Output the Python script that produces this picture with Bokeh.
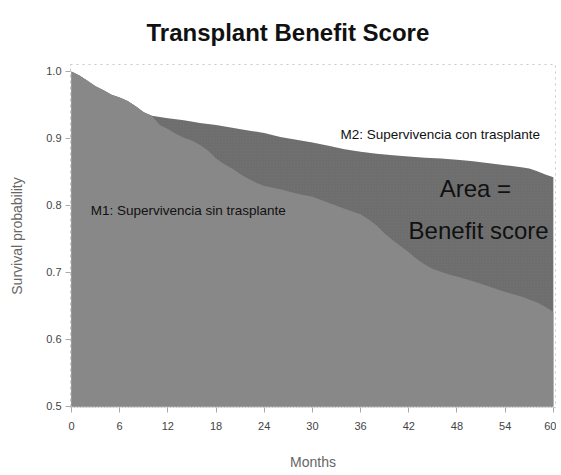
from bokeh.plotting import figure
from bokeh.models import Label, Range1d, FixedTicker, CustomJSTickFormatter
from bokeh.embed import file_html
from bokeh.resources import INLINE

# --- data ---
m1_months = [0, 1, 2, 3, 4, 5, 6, 7, 8, 9, 10, 11, 12, 13, 14, 15, 16, 17, 18, 19, 20,
             21, 22, 23, 24, 26, 28, 30, 32, 34, 36, 37, 38, 39, 40, 41, 42, 43, 44, 45,
             46, 47, 48, 50, 52, 54, 56, 58, 59, 60]
m1_surv = [1.0, 0.994, 0.986, 0.978, 0.972, 0.965, 0.961, 0.956, 0.948, 0.939, 0.934,
           0.92, 0.914, 0.907, 0.901, 0.897, 0.89, 0.882, 0.87, 0.862, 0.855,
           0.847, 0.84, 0.834, 0.829, 0.824, 0.818, 0.813, 0.804, 0.795, 0.787,
           0.779, 0.77, 0.758, 0.748, 0.739, 0.73, 0.72, 0.712, 0.705,
           0.701, 0.697, 0.694, 0.687, 0.679, 0.671, 0.664, 0.655, 0.649, 0.641]

m2_months = [0, 1, 2, 3, 4, 5, 6, 7, 8, 9, 10, 11, 12, 14, 16, 18, 20, 22, 24, 26, 28,
             30, 32, 34, 36, 38, 40, 42, 44, 46, 48, 50, 52, 54, 56, 57, 58, 59, 60]
m2_surv = [1.0, 0.994, 0.986, 0.978, 0.972, 0.965, 0.961, 0.956, 0.948, 0.939, 0.934,
           0.932, 0.93, 0.927, 0.923, 0.92, 0.916, 0.912, 0.908, 0.902, 0.898,
           0.894, 0.889, 0.884, 0.88, 0.877, 0.875, 0.873, 0.871, 0.87, 0.868,
           0.866, 0.863, 0.86, 0.857, 0.855, 0.851, 0.846, 0.842]

x_ticks = [0, 6, 12, 18, 24, 30, 36, 42, 48, 54, 60]
y_ticks = [0.5, 0.6, 0.7, 0.8, 0.9, 1.0]

title_text = "Transplant Benefit Score"
label_m1 = "M1: Supervivencia sin trasplante"
label_m2 = "M2: Supervivencia con trasplante"
label_area1 = "Area ="
label_area2 = "Benefit score"

FONT = "Liberation Sans"

p = figure(width=556, height=472, output_backend="svg", toolbar_location=None,
           x_range=Range1d(-0.12, 60.27), y_range=Range1d(0.4985, 1.0103),
           min_border_left=70, min_border_right=1, min_border_top=64, min_border_bottom=60,
           title=title_text)

p.title.text_font = FONT
p.title.text_font_style = "bold"
p.title.text_font_size = "24px"
p.title.align = "left"
p.title.offset = 76
p.title.vertical_align = "top"
p.title.standoff = 34
p.title.text_color = "#111111"

p.grid.visible = False
p.outline_line_color = "#c8c8c8"
p.outline_line_dash = "dotted"
p.outline_line_width = 1

# M2 area (darker, stippled)
p.varea(x=m2_months, y1=0.5, y2=m2_surv, fill_color="#707070",
        hatch_pattern="dot", hatch_color="#555555", hatch_scale=3, hatch_alpha=0.3)
# M1 area (lighter)
p.varea(x=m1_months, y1=0.5, y2=m1_surv, fill_color="#888888")

# axes
for ax in (p.xaxis[0], p.yaxis[0]):
    ax.axis_line_color = "#c8c8c8"
    ax.axis_line_dash = "dotted"
    ax.major_tick_line_color = "#aaaaaa"
    ax.major_tick_in = 0
    ax.major_tick_out = 5
    ax.minor_tick_line_color = None
    ax.major_label_text_font = FONT
    ax.major_label_text_font_size = "11px"
    ax.major_label_text_color = "#444444"
    ax.axis_label_text_font = FONT
    ax.axis_label_text_font_style = "normal"
    ax.axis_label_text_color = "#666666"
    ax.axis_label_text_font_size = "14px"

p.xaxis.ticker = FixedTicker(ticks=x_ticks)
p.yaxis.ticker = FixedTicker(ticks=y_ticks)
p.yaxis.formatter = CustomJSTickFormatter(code="return tick.toFixed(1);")
p.xaxis.axis_label = "Months"
p.yaxis.axis_label = "Survival probability"
p.xaxis.major_label_standoff = 9
p.xaxis.axis_label_standoff = 21
p.yaxis.major_label_standoff = 4
p.yaxis.axis_label_standoff = 18

# annotations
p.add_layout(Label(x=2.4, y=0.793, text=label_m1, text_font=FONT, text_font_size="13.5px",
                   text_baseline="middle", text_align="left", text_color="#111111"))
p.add_layout(Label(x=33.5, y=0.906, text=label_m2, text_font=FONT, text_font_size="13.5px",
                   text_baseline="middle", text_align="left", text_color="#111111"))
p.add_layout(Label(x=50.3, y=0.8255, text=label_area1, text_font=FONT, text_font_size="24px",
                   text_baseline="middle", text_align="center", text_color="#111111"))
p.add_layout(Label(x=50.7, y=0.762, text=label_area2, text_font=FONT, text_font_size="24px",
                   text_baseline="middle", text_align="center", text_color="#111111"))

open("out.html", "w").write(file_html(p, INLINE))
